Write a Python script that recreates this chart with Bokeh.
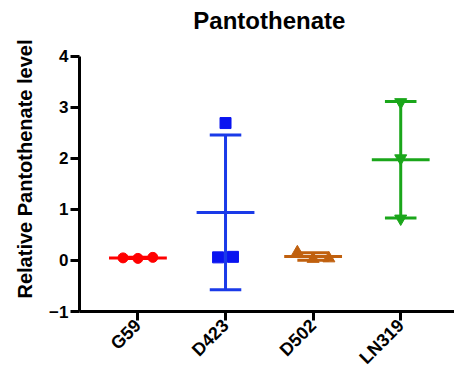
import numpy as np
from math import pi
from bokeh.plotting import figure
from bokeh.models import FixedTicker, Range1d, LinearAxis, Label, Title
from bokeh.embed import file_html
from bokeh.resources import INLINE

# ---- data ----
categories = ["G59", "D423", "D502", "LN319"]
g59 = [0.05, 0.04, 0.06]
d423 = [0.06, 2.69, 0.07]
d502 = [0.16, 0.03, 0.04]
ln319 = [3.10, 2.00, 0.82]
y_ticks = [-1, 0, 1, 2, 3, 4]

series = [g59, d423, d502, ln319]

# ---- styling ----
markers = ["circle", "square", "triangle", "inverted_triangle"]
marker_sizes = [10, 11, 12, 12]
point_colors = ["#FF0000", "#0A14F0", "#C0600E", "#1AA61A"]
line_colors = ["#FF0000", "#1A3AE8", "#C0600E", "#1AA61A"]
jitters = [[-0.17, 0, 0.17], [-0.085, 0, 0.085], [-0.18, 0, 0.18], [0, 0, 0]]
FONT = "Liberation Sans"

p = figure(width=454, height=378,
           x_range=Range1d(0.333, 4.614), y_range=Range1d(-1, 5.09),
           output_backend="svg", toolbar_location=None,
           x_axis_location=None, y_axis_location=None,
           min_border_left=77, min_border_right=0,
           min_border_top=0, min_border_bottom=67)

p.grid.visible = False
p.outline_line_color = None
p.background_fill_color = "white"

common = dict(
    axis_line_width=3, axis_line_color="black",
    major_tick_line_width=3, major_tick_line_color="black",
    major_tick_out=9, major_tick_in=0,
    minor_tick_out=0, minor_tick_in=0,
    major_label_text_font=FONT, major_label_text_font_style="bold",
    major_label_text_color="black",
)

xaxis = LinearAxis(
    ticker=FixedTicker(ticks=[1, 2, 3, 4]),
    major_label_overrides={i + 1: c for i, c in enumerate(categories)},
    major_label_orientation=pi / 4,
    major_label_standoff=2,
    major_label_text_font_size="18px",
    **common)
p.add_layout(xaxis, "below")

yaxis = LinearAxis(
    ticker=FixedTicker(ticks=y_ticks),
    bounds=(-1, 4),
    major_label_standoff=2,
    major_label_text_font_size="17px",
    **common)
p.add_layout(yaxis, "left")

ylabel = Title(text="Relative Pantothenate level", align="left", offset=13,
               text_font=FONT, text_font_size="20px", text_font_style="bold",
               text_color="black", standoff=22)
p.add_layout(ylabel, "left")

title = Label(x=2.5, y=4.69, text="Pantothenate", text_align="center",
              text_baseline="alphabetic", text_font=FONT, text_font_size="24px",
              text_font_style="bold", text_color="black")
p.add_layout(title)

mean_half = 0.33
cap_half = 0.18
for i, vals in enumerate(series):
    xc = i + 1
    arr = np.array(vals)
    m = arr.mean()
    sd = arr.std(ddof=1)
    xs = [xc + j for j in jitters[i]]
    p.scatter(xs, vals, marker=markers[i], size=marker_sizes[i],
              fill_color=point_colors[i], line_color=point_colors[i])
    lc = line_colors[i]
    p.segment(x0=[xc], y0=[m - sd], x1=[xc], y1=[m + sd], line_color=lc, line_width=3)
    p.segment(x0=[xc - cap_half, xc - cap_half], y0=[m - sd, m + sd],
              x1=[xc + cap_half, xc + cap_half], y1=[m - sd, m + sd],
              line_color=lc, line_width=3)
    p.segment(x0=[xc - mean_half], y0=[m], x1=[xc + mean_half], y1=[m],
              line_color=lc, line_width=3)

open("out.html", "w").write(file_html(p, INLINE))
